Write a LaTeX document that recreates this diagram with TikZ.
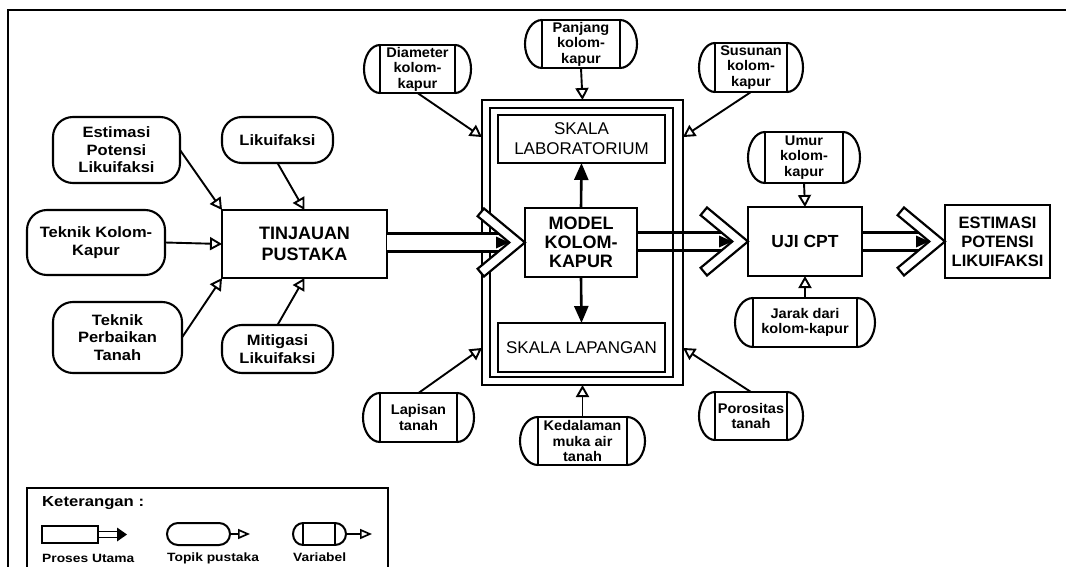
\documentclass[tikz,border=0pt]{standalone}
\usepackage{fontspec}
\setmainfont{Liberation Sans}
\newfontfamily\widesf[FakeStretch=1.1]{Liberation Sans}
\newfontfamily\varsf[FakeStretch=1.04]{Liberation Sans}
\newfontfamily\widersf[FakeStretch=1.15]{Liberation Sans}
\usetikzlibrary{arrows.meta,calc}
\newcommand\procarrow[3]{%
  \coordinate (T) at (#2.west);
  \coordinate (S) at (#1.east |- T);
  \path[fill=#3] ($(S)+(0,-9)$) rectangle ($(T)+(-26.5,9)$);
  \draw[line width=2.2pt] ($(S)+(0,-9)$) -- ($(T)+(-26.5,-9)$);
  \draw[line width=2.2pt] ($(S)+(0,9)$) -- ($(T)+(-26.5,9)$);
  \draw[line width=2.2pt, fill=white, line join=miter]
    ($(T)+(-41,-34)$) -- (T) -- ($(T)+(-41,34)$) -- ($(T)+(-47.4,26.3)$)
    -- ($(T)+(-15.7,0)$) -- ($(T)+(-47.4,-26.3)$) -- cycle;
  \fill ($(T)+(-29,-6)$) -- ($(T)+(-15.7,0)$) -- ($(T)+(-29,6)$) -- cycle;
}
\begin{document}
\begin{tikzpicture}[x=1pt,y=-1pt,
  procbox/.style={draw, line width=2.4pt, inner sep=0pt, outer sep=0pt, align=center,
    font=\bfseries\fontsize{18}{21}\selectfont},
  scalebox/.style={draw, line width=2.4pt, inner sep=0pt, outer sep=0pt, align=center,
    font=\fontsize{17}{20}\selectfont},
  topic/.style={draw, line width=2.1pt, rounded corners=20pt, inner sep=0pt, outer sep=0pt,
    align=center, font=\widesf\bfseries\fontsize{15}{17.5}\selectfont},
  varbox/.style={draw, line width=2.1pt, inner sep=0pt, outer sep=0pt, align=center,
    font=\varsf\bfseries\fontsize{14}{15.5}\selectfont},
  conn/.style={line width=1.9pt, -{Triangle[open, length=12pt, width=13pt]}},
  solidarr/.style={line width=2.6pt, -{Triangle[length=17pt, width=14pt]}},
  legtxt/.style={anchor=west, inner sep=0pt, font=\widersf\bfseries\fontsize{12}{13}\selectfont}
]
\useasboundingbox (0,0) rectangle (1066,567);
\fill[white] (0,0) rectangle (1066,567);
% outer frame
\draw[line width=2.6pt] (1066,10) -- (8,10) -- (8,567);

% double frame round the model
\node[draw, line width=2.8pt, minimum width=201pt, minimum height=285pt, inner sep=0pt, outer sep=0pt] (frm) at (582.5,242.5) {};
\node[draw, line width=2.6pt, minimum width=183pt, minimum height=269pt, inner sep=0pt, outer sep=0pt] (frmi) at (581.5,242.5) {};

% main process boxes
\node[procbox, minimum width=165pt, minimum height=68pt] (tin) at (304.5,244) {TINJAUAN\\PUSTAKA};
\node[procbox, minimum width=112pt, minimum height=69pt, font=\bfseries\fontsize{18}{19}\selectfont] (mod) at (581,242.5) {MODEL\\KOLOM-\\KAPUR};
\node[scalebox, minimum width=167pt, minimum height=48pt] (lab) at (581.5,139) {SKALA\\LABORATORIUM};
\node[scalebox, minimum width=167pt, minimum height=49pt] (lap) at (581.5,347.5) {SKALA LAPANGAN};
\node[procbox, minimum width=114pt, minimum height=69pt, font=\bfseries\fontsize{17.5}{20}\selectfont] (uji) at (805,241.5) {UJI CPT};
\node[procbox, minimum width=105pt, minimum height=73pt, font=\bfseries\fontsize{16.5}{19}\selectfont] (est) at (997.5,241.5) {ESTIMASI\\POTENSI\\LIKUIFAKSI};

% big process arrows
\procarrow{tin}{mod}{white}
\procarrow{mod}{uji}{none}
\procarrow{uji}{est}{none}

% topics
\node[topic, minimum width=127pt, minimum height=66pt] (t1) at (116.5,150) {Estimasi\\Potensi\\Likuifaksi};
\node[topic, minimum width=111pt, minimum height=46pt] (t2) at (277.5,140) {Likuifaksi};
\node[topic, minimum width=138pt, minimum height=65pt] (t3) at (96,242.5) {Teknik Kolom-\\Kapur};
\node[topic, minimum width=129pt, minimum height=71pt] (t4) at (117.5,337.5) {Teknik\\Perbaikan\\Tanah};
\node[topic, minimum width=111pt, minimum height=48pt] (t5) at (277.5,349) {Mitigasi\\Likuifaksi};

% variables
\node[varbox, minimum width=75pt, minimum height=48pt] (v1) at (417.5,69) {Diameter\\kolom-\\kapur};
\node[varbox, minimum width=78pt, minimum height=48pt] (v2) at (581,44) {Panjang\\kolom-\\kapur};
\node[varbox, minimum width=72pt, minimum height=49pt] (v3) at (751,67.5) {Susunan\\kolom-\\kapur};
\node[varbox, minimum width=78pt, minimum height=51pt] (v4) at (804,157.5) {Umur\\kolom-\\kapur};
\node[varbox, minimum width=104pt, minimum height=49pt] (v5) at (805,322.5) {Jarak dari\\kolom-kapur};
\node[varbox, minimum width=77pt, minimum height=49pt] (v6) at (418.5,417.5) {Lapisan\\tanah};
\node[varbox, minimum width=89pt, minimum height=48pt] (v7) at (582.5,441) {Kedalaman\\muka air\\tanah};
\node[varbox, minimum width=72pt, minimum height=48pt] (v8) at (751,416) {Porositas\\tanah};
\foreach \n/\rx/\ry in {v1/16pt/24pt, v2/17pt/24pt, v3/16pt/24.5pt, v4/17pt/25.5pt,
                        v5/18pt/24.5pt, v6/17pt/24.5pt, v7/18pt/24pt, v8/16pt/24pt}{
  \draw[line width=2.1pt] (\n.north east) arc[start angle=90, end angle=-90, x radius=\rx, y radius=\ry];
  \draw[line width=2.1pt] (\n.south west) arc[start angle=270, end angle=90, x radius=\rx, y radius=\ry];
}

% connectors: topics -> tinjauan
\draw[conn] (t1.east) -- (tin.north west);
\draw[conn] (t2.south) -- (tin.north);
\draw[conn] (t3.east) -- (tin.west);
\draw[conn] (t4.east) -- (tin.south west);
\draw[conn] (t5.north) -- (tin.south);

% connectors: variables -> frame / uji
\draw[conn] (v1.south) -- ($(frm.north west)!0.13!(frm.south west)$);
\draw[conn] (v2.south) -- (frm.north);
\draw[conn] (v3.south) -- ($(frm.north east)!0.13!(frm.south east)$);
\draw[conn] (v6.north) -- ($(frm.south west)!0.13!(frm.north west)$);
\draw[conn] (v7.north) -- (frm.south);
\draw[conn] (v8.north) -- ($(frm.south east)!0.13!(frm.north east)$);
\draw[conn] (v4.south) -- (uji.north);
\draw[conn] (v5.north) -- (uji.south);

% model -> scales
\draw[solidarr] (mod.north) -- (lab.south);
\draw[solidarr] (mod.south) -- (lap.north);

% legend
\draw[line width=2.1pt] (27,567) -- (27,488) -- (388,488) -- (388,567);
\node[anchor=west, inner sep=0pt, font=\widersf\bfseries\fontsize{14.5}{16}\selectfont] (ket) at (42,503) {Keterangan :};
\node[draw, line width=2pt, minimum width=56pt, minimum height=17pt, inner sep=0pt, outer sep=0pt] (lp) at (70,534.5) {};
\coordinate (lpe) at (127,534.5);
\draw[line width=1.5pt] ($(lp.east)+(0,-3)$) -- ($(lpe)+(-9,-3)$);
\draw[line width=1.5pt] ($(lp.east)+(0,3)$) -- ($(lpe)+(-9,3)$);
\fill (lpe) -- ($(lpe)+(-10,-7)$) -- ($(lpe)+(-10,7)$) -- cycle;
\node[draw, line width=2pt, rounded corners=11pt, minimum width=63pt, minimum height=22pt, inner sep=0pt, outer sep=0pt] (lt) at (198.5,534) {};
\coordinate (lte) at (250,534);
\draw[line width=1.7pt, -{Triangle[open, length=12pt, width=10pt]}] (lt.east) -- (lte);
\node[draw, line width=2pt, minimum width=32pt, minimum height=22pt, inner sep=0pt, outer sep=0pt] (lv) at (319,534) {};
\draw[line width=2pt] (lv.north east) arc[start angle=90, end angle=-90, x radius=11pt, y radius=11pt];
\draw[line width=2pt] (lv.south west) arc[start angle=270, end angle=90, x radius=10pt, y radius=11pt];
\coordinate (lve) at (372,534);
\draw[line width=1.7pt, -{Triangle[open, length=12pt, width=10pt]}] ($(lv.east)+(11,0)$) -- (lve);
\node[legtxt] (l1) at (42,558) {Proses Utama};
\node[legtxt] (l2) at (167,558) {Topik pustaka};
\node[legtxt] (l3) at (293,557) {Variabel};
\end{tikzpicture}
\end{document}
